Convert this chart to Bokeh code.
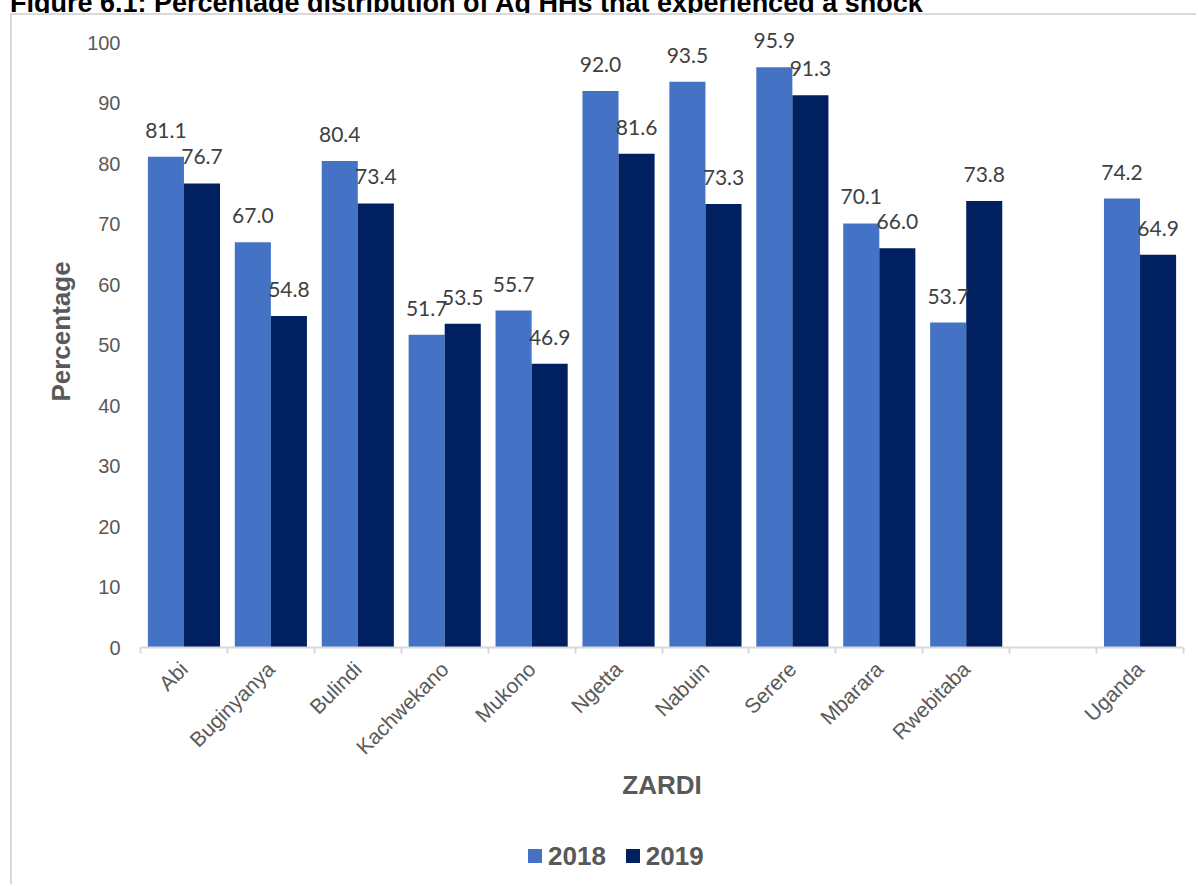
import math
from bokeh.plotting import figure
from bokeh.models import (ColumnDataSource, Range1d, FixedTicker, LabelSet, Div)
from bokeh.layouts import column
from bokeh.transform import dodge
from bokeh.core.properties import value
from bokeh.embed import file_html
from bokeh.resources import INLINE

# ---------------- data ----------------
categories = ["Abi", "Buginyanya", "Bulindi", "Kachwekano", "Mukono", "Ngetta",
              "Nabuin", "Serere", "Mbarara", "Rwebitaba", "", "Uganda"]
values_2018 = [81.1, 67.0, 80.4, 51.7, 55.7, 92.0, 93.5, 95.9, 70.1, 53.7, None, 74.2]
values_2019 = [76.7, 54.8, 73.4, 53.5, 46.9, 81.6, 73.3, 91.3, 66.0, 73.8, None, 64.9]
series_names = ["2018", "2019"]
series_colors = ["#4472C4", "#002060"]
y_ticks = [0, 10, 20, 30, 40, 50, 60, 70, 80, 90, 100]
title_text = "Figure 6.1: Percentage distribution of Ag HHs that experienced a shock"
x_title = "ZARDI"
y_title = "Percentage"

GREY = "#595959"
BORDER = "2px solid #D9D9D9"
AXIS_FONT = "Liberation Sans"

idx = list(range(len(categories)))
nan = float("nan")
src = ColumnDataSource(dict(
    x=idx,
    v2018=[nan if v is None else v for v in values_2018],
    v2019=[nan if v is None else v for v in values_2019],
    t2018=["" if v is None else f"{v:.1f}" for v in values_2018],
    t2019=["" if v is None else f"{v:.1f}" for v in values_2019],
))

# canvas geometry (canvas sits inside the light grey chart-area border)
CANVAS_W, CANVAS_H = 1186, 821
FRAME_LEFT, FRAME_RIGHT_PAD, AXIS_Y0, AXIS_Y100 = 128, 15, 632, 27
y_top = 100 * AXIS_Y0 / (AXIS_Y0 - AXIS_Y100)

p = figure(width=CANVAS_W, height=CANVAS_H, output_backend="svg", toolbar_location=None,
           title=None,
           x_range=Range1d(-0.5, len(categories) - 0.5), y_range=Range1d(0, y_top),
           min_border_left=FRAME_LEFT, min_border_right=FRAME_RIGHT_PAD, min_border_top=0,
           min_border_bottom=CANVAS_H - AXIS_Y0, margin=0)
p.styles = {"margin-left": "10px", "border-left": BORDER, "border-top": BORDER}
p.outline_line_color = None
p.xgrid.visible = False
p.ygrid.visible = False
p.background_fill_color = "white"
p.border_fill_color = "white"

BW = 0.415
for name, col, off in zip(series_names, series_colors, (-BW / 2, BW / 2)):
    p.vbar(x=dodge("x", off, range=p.x_range), top="v" + name, width=BW,
           source=src, fill_color=col, line_color=None)
    p.add_layout(LabelSet(x=dodge("x", off, range=p.x_range), y="v" + name,
                          text="t" + name, source=src, y_offset=19,
                          text_align="center", text_baseline="alphabetic",
                          text_font=value("Lato"), text_font_size="21px",
                          text_color="#404040"))

# x axis
xa = p.xaxis[0]
xa.ticker = FixedTicker(ticks=idx, minor_ticks=[i - 0.5 for i in range(len(categories) + 1)])
xa.major_label_overrides = {i: c for i, c in zip(idx, categories)}
xa.major_label_orientation = math.pi / 4
xa.major_label_text_font = AXIS_FONT
xa.major_label_text_font_size = "21px"
xa.major_label_text_color = GREY
xa.major_label_standoff = 12
xa.major_tick_out = 0
xa.major_tick_in = 0
xa.minor_tick_out = 6
xa.minor_tick_in = 0
xa.minor_tick_line_color = "#D9D9D9"
xa.minor_tick_line_width = 2
xa.axis_line_color = "#D9D9D9"
xa.axis_line_width = 2
xa.axis_label = x_title
xa.axis_label_text_font = AXIS_FONT
xa.axis_label_text_font_size = "26px"
xa.axis_label_text_font_style = "bold"
xa.axis_label_text_color = GREY
xa.axis_label_standoff = 0

# y axis
ya = p.yaxis[0]
ya.ticker = FixedTicker(ticks=y_ticks)
ya.axis_line_color = None
ya.major_tick_out = 0
ya.major_tick_in = 0
ya.minor_tick_out = 0
ya.minor_tick_in = 0
ya.major_label_text_font = AXIS_FONT
ya.major_label_text_font_size = "20px"
ya.major_label_text_color = GREY
ya.major_label_standoff = 20
ya.axis_label = y_title
ya.axis_label_text_font = AXIS_FONT
ya.axis_label_text_font_size = "26px"
ya.axis_label_text_font_style = "bold"
ya.axis_label_text_color = GREY
ya.axis_label_standoff = 8

# figure title (cropped at the top of the page, as in the reference)
title = Div(text=('<div style="font: bold 27px \'Liberation Sans\', Arial, sans-serif; '
                  'color: #000; white-space: nowrap; margin: -27px 0 0 10px;">'
                  + title_text + '</div>'),
            width=1198, height=13, margin=0, styles={"overflow": "hidden"})

# legend
sq = ('<span style="display:inline-block;width:14px;height:14px;background:{c};'
      'margin:0 6px 0 {ml}px;vertical-align:2px;"></span>')
legend_html = ('<div style="padding:7px 0 0 516px; white-space:nowrap; '
               'font: bold 26px \'Liberation Sans\', Arial, sans-serif; color:' + GREY + ';">'
               + sq.format(c=series_colors[0], ml=0) + series_names[0]
               + sq.format(c=series_colors[1], ml=20) + series_names[1] + '</div>')
legend = Div(text=legend_html, width=1186, height=50, margin=0,
             styles={"margin-left": "10px", "border-left": BORDER})

layout = column(title, p, legend, spacing=0)
open("out.html", "w").write(file_html(layout, INLINE))
